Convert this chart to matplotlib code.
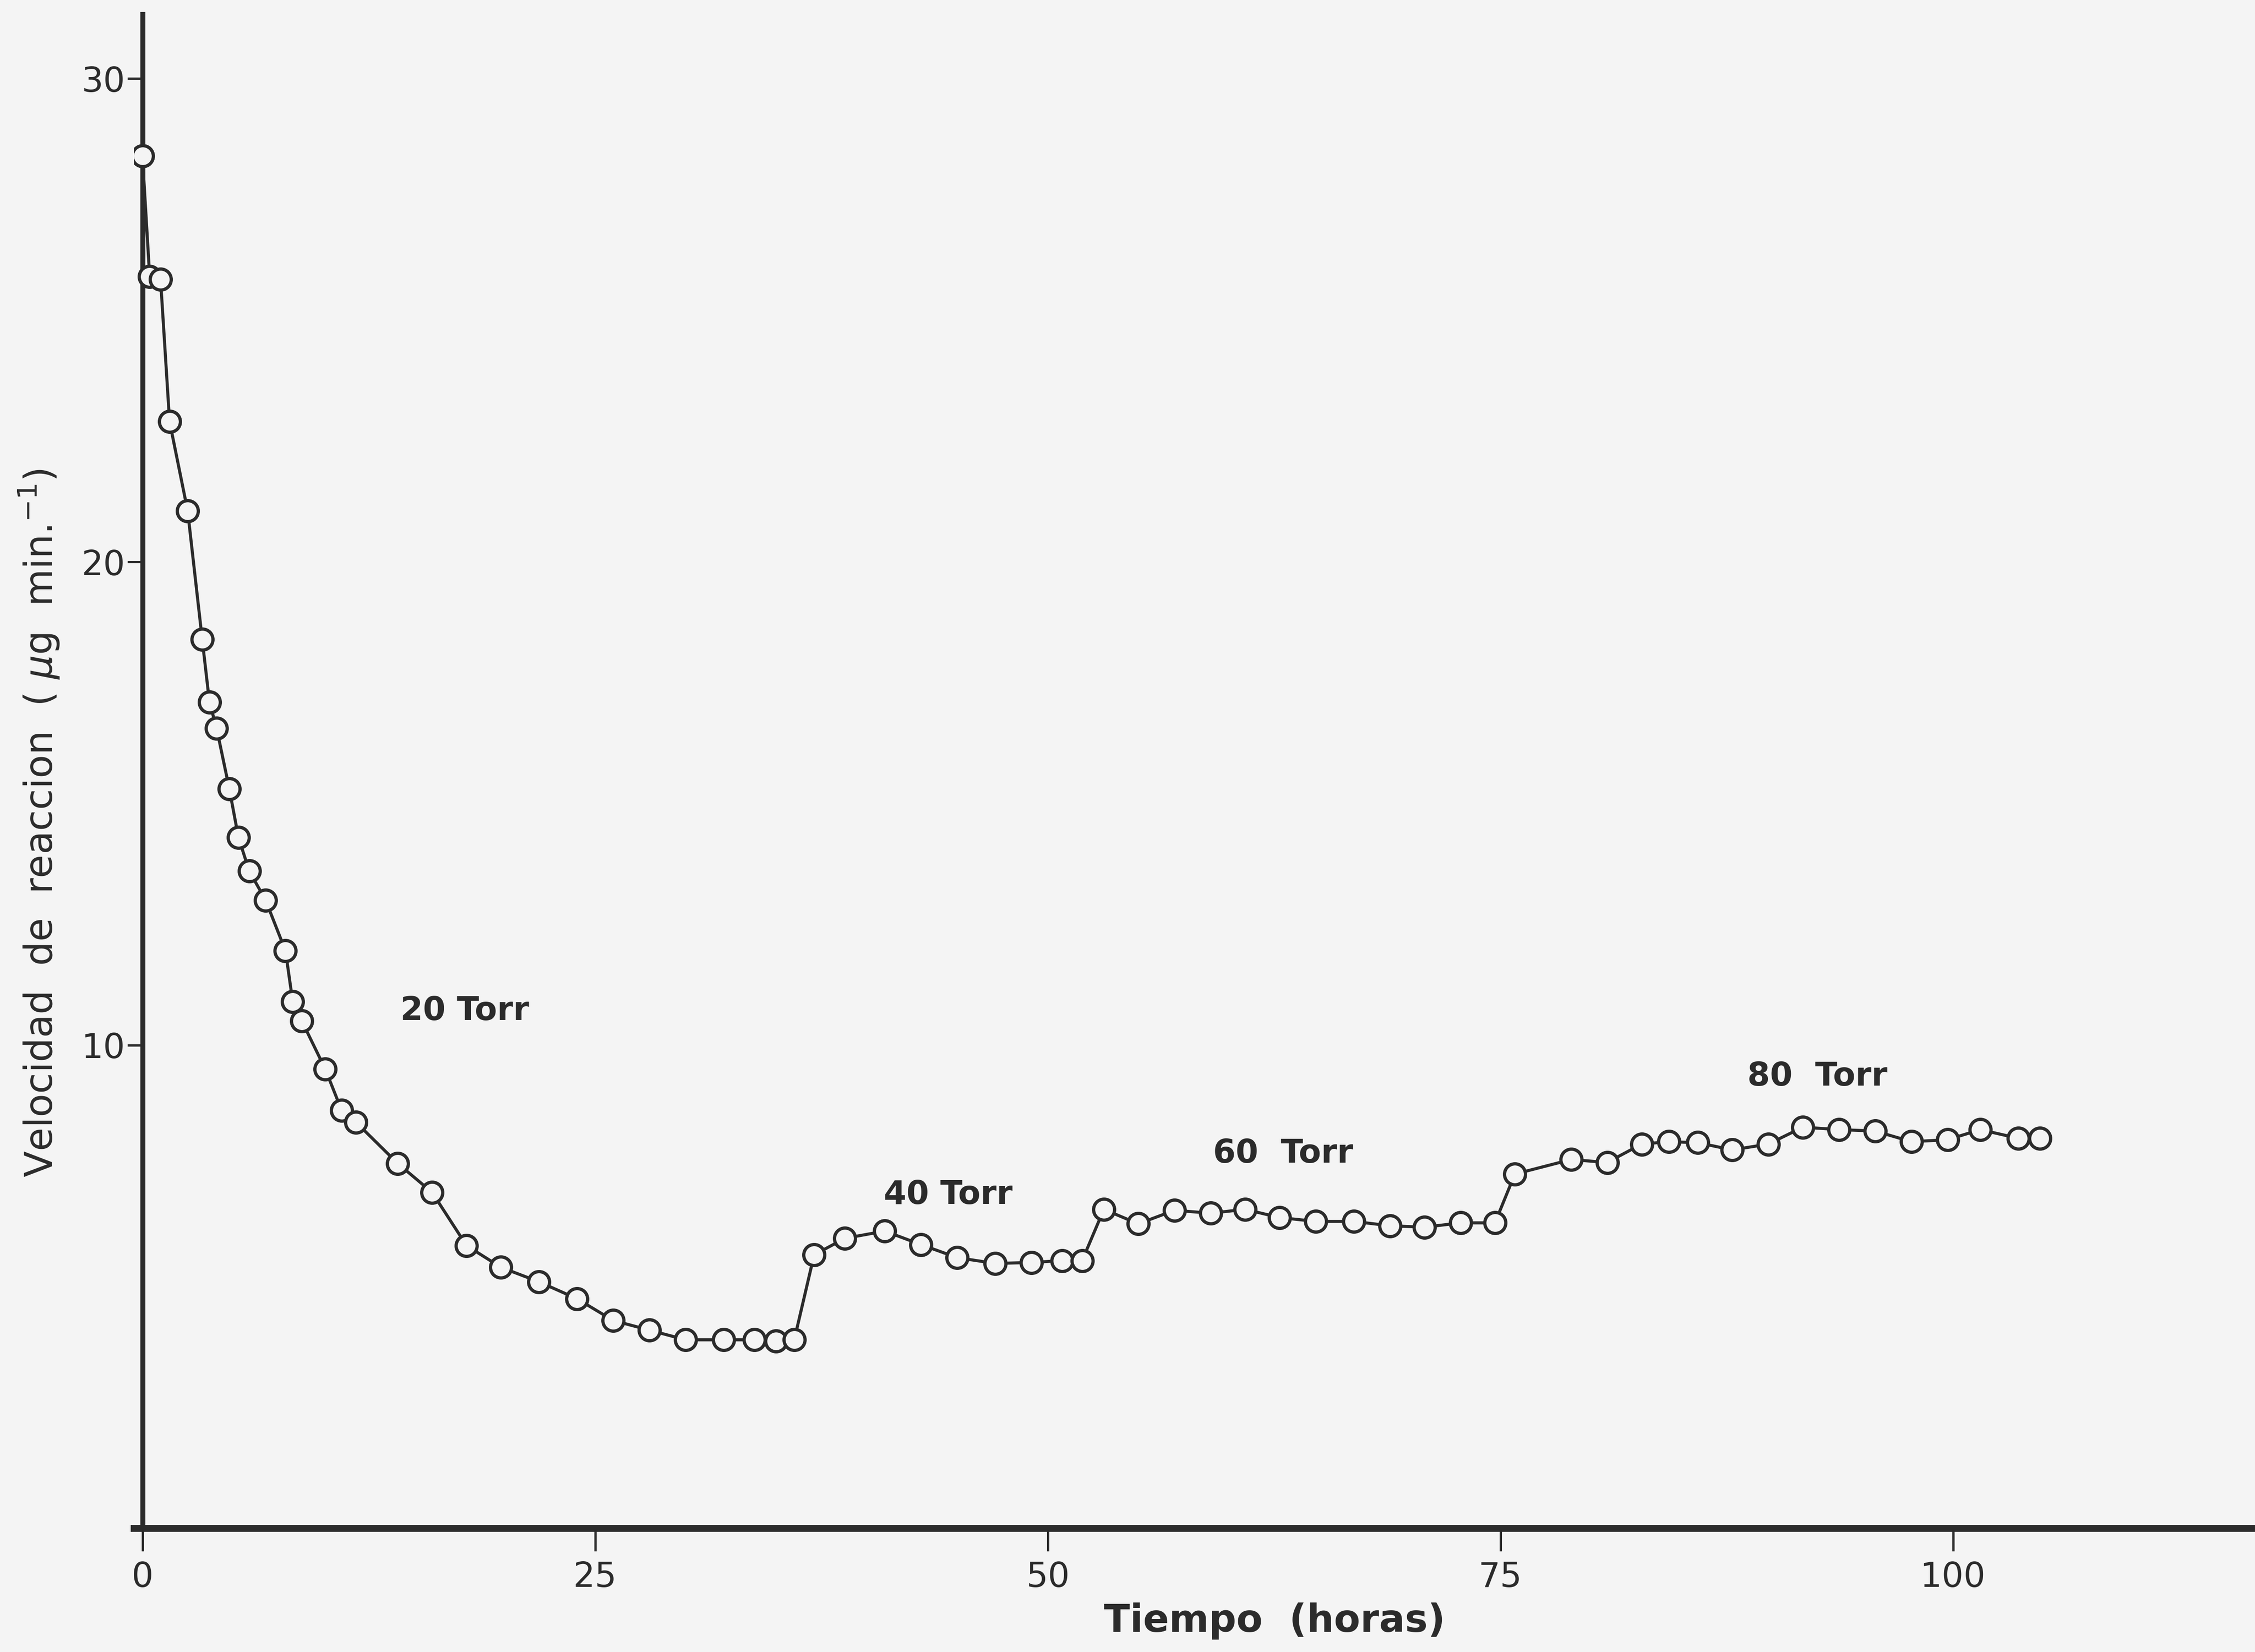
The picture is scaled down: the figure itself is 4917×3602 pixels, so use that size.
import matplotlib
matplotlib.use("Agg")
import matplotlib.pyplot as plt

# reaction rate vs time, oxygen pressure raised in steps (20 -> 40 -> 60 -> 80 Torr)
tiempo = [0.0, 0.4, 1.0, 1.5, 2.5, 3.3, 3.7, 4.1, 4.8, 5.3, 5.9, 6.8, 7.9, 8.3, 8.8,
          10.1, 11.0, 11.8, 14.1, 16.0, 17.9, 19.8, 21.9, 24.0, 26.0, 28.0, 30.0,
          32.1, 33.8, 35.0, 36.0,
          37.1, 38.8, 41.0, 43.0, 45.0, 47.1, 49.1, 50.8, 51.9,
          53.1, 55.0, 57.0, 59.0, 60.9, 62.8, 64.8, 66.9, 68.9, 70.8, 72.8, 74.7,
          75.8, 78.9, 80.9, 82.8, 84.3, 85.9, 87.8, 89.8, 91.7, 93.7, 95.7, 97.7,
          99.7, 101.5, 103.6, 104.8]
velocidad = [28.4, 25.9, 25.85, 22.9, 21.05, 18.4, 17.1, 16.55, 15.3, 14.3, 13.6,
             13.0, 11.95, 10.9, 10.5, 9.5, 8.65, 8.4, 7.55, 6.95, 5.85, 5.4, 5.1,
             4.75, 4.3, 4.1, 3.9, 3.9, 3.9, 3.87, 3.9,
             5.66, 6.0, 6.15, 5.87, 5.6, 5.48, 5.5, 5.54, 5.54,
             6.6, 6.3, 6.58, 6.52, 6.6, 6.43, 6.35, 6.35, 6.26, 6.23, 6.32, 6.32,
             7.33, 7.63, 7.57, 7.95, 8.0, 7.98, 7.83, 7.95, 8.3, 8.25, 8.22, 8.0,
             8.04, 8.25, 8.07, 8.07]

presiones = ["20 Torr", "40 Torr", "60  Torr", "80  Torr"]
pos_presion = [(17.8, 10.7), (44.5, 6.9), (63.0, 7.75), (92.5, 9.35)]

x_ticks = [0, 25, 50, 75, 100]
y_ticks = [10, 20, 30]

INK = "#2b2b2b"
PAPER = "#f4f4f4"
plt.rcParams["font.family"] = ["DejaVu Sans"]

fig = plt.figure(figsize=(16.393, 12.007), dpi=300)
fig.patch.set_facecolor(PAPER)
ax = fig.add_axes([0.0593, 0.0749, 0.9407, 0.9164])
ax.set_facecolor(PAPER)

ax.plot(tiempo, velocidad, color=INK, lw=1.6, marker="o", ms=11,
        mfc=PAPER, mec=INK, mew=1.7, zorder=3)

for s, (px, py) in zip(presiones, pos_presion):
    ax.text(px, py, s, fontsize=17, color=INK, weight="bold",
            ha="center", va="center")

ax.set_xlim(-0.48, 116.7)
ax.set_ylim(0, 31.33)
ax.spines["left"].set_position(("data", 0))
ax.spines["top"].set_visible(False)
ax.spines["right"].set_visible(False)
ax.spines["left"].set_linewidth(2.6)
ax.spines["bottom"].set_linewidth(3.6)
ax.spines["left"].set_color(INK)
ax.spines["bottom"].set_color(INK)

ax.set_xticks(x_ticks)
ax.set_yticks(y_ticks)
ax.tick_params(axis="x", direction="out", length=12, width=1.2, pad=5,
               labelsize=18, colors=INK)
ax.tick_params(axis="y", direction="out", length=8, width=1.2, pad=1,
               labelsize=18, colors=INK)

ax.set_xlabel("Tiempo  (horas)", fontsize=20, weight="bold", color=INK)
ax.xaxis.set_label_coords(0.5376, -0.049)
ax.set_ylabel("Velocidad  de  reaccion  ( $\\mu$g  min.$^{-1}$)", fontsize=20, color=INK)
ax.yaxis.set_label_coords(-0.034, 0.466)

plt.savefig("out.png", dpi=300, facecolor=PAPER)
